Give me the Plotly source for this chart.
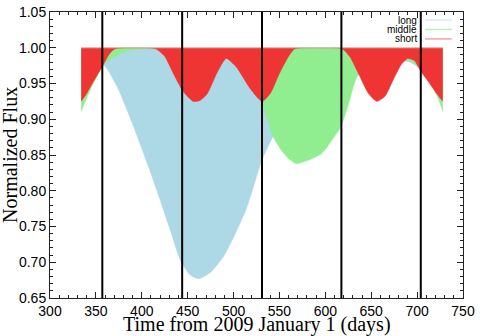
import plotly.graph_objects as go

long_time = [334, 346, 358, 373, 391, 398, 410, 420, 431, 442, 452, 462, 475, 489,
             500, 514, 531, 543, 552, 565, 580, 600, 620, 640, 660, 680, 692, 704, 716, 728]
long_flux = [0.930, 0.962, 0.976, 0.946, 0.890, 0.866, 0.824, 0.787, 0.745, 0.703, 0.683,
             0.677, 0.686, 0.708, 0.735, 0.775, 0.843, 0.876, 0.895, 0.920, 0.945, 0.965,
             0.975, 0.978, 0.980, 0.982, 0.980, 0.970, 0.955, 0.930]

middle_time = [334, 340, 346, 352, 358, 365, 373, 387, 400, 415, 495, 505, 515, 524, 531,
               537, 543, 552, 560, 568, 580, 596, 610, 617, 625, 634, 645, 660, 675, 690,
               697, 704, 712, 719, 724, 728]
middle_flux = [0.911, 0.930, 0.947, 0.962, 0.976, 0.983, 0.989, 0.996, 0.998, 0.999, 0.999,
               0.993, 0.975, 0.948, 0.925, 0.899, 0.876, 0.857, 0.845, 0.838, 0.842, 0.852,
               0.876, 0.890, 0.920, 0.958, 0.975, 0.984, 0.986, 0.983, 0.978, 0.970, 0.957,
               0.940, 0.926, 0.911]

short_time = [334, 340, 346, 352, 358, 364, 370, 378, 408, 416, 425, 434, 445, 456, 463,
              471, 482, 492, 503, 518, 531, 540, 550, 560, 566, 573, 612, 619, 627, 636,
              647, 656, 665, 675, 683, 690, 697, 704, 712, 719, 728]
short_flux = [0.925, 0.936, 0.950, 0.963, 0.976, 0.990, 0.998, 0.9995, 0.9995, 0.998, 0.988,
              0.965, 0.939, 0.925, 0.926, 0.935, 0.965, 0.985, 0.973, 0.943, 0.925, 0.936,
              0.964, 0.988, 0.998, 0.9995, 0.9995, 0.998, 0.987, 0.964, 0.936, 0.925, 0.932,
              0.958, 0.977, 0.985, 0.982, 0.967, 0.953, 0.940, 0.925]

event_times = [357, 444, 531, 617.5, 704]

series = [
    ("long", long_time, long_flux, "#add8e6", "#d6ecf3"),
    ("middle", middle_time, middle_flux, "#90ee90", "#b8efb8"),
    ("short", short_time, short_flux, "#ef3434", "#f4a3a3"),
]

fig = go.Figure()
for name, t, f, col, _ in series:
    # flat baseline at 1, the curve fills up to it
    fig.add_trace(go.Scatter(x=[t[0], t[-1]], y=[1.0, 1.0], mode="lines",
                             line=dict(width=0, color=col), showlegend=False,
                             hoverinfo="skip"))
    fig.add_trace(go.Scatter(x=t, y=f, mode="lines", name=name, fill="tonexty",
                             fillcolor=col,
                             line=dict(width=0.5, color=col, shape="spline", smoothing=0.6),
                             showlegend=False))

fig.add_trace(go.Scatter(x=[long_time[0], long_time[-1]], y=[1.0, 1.0], mode="lines",
                         line=dict(width=1, color="#dcbcae"), showlegend=False))

for t in event_times:
    fig.add_vline(x=t, line=dict(color="black", width=2))

# legend: text on the left, sample line on the right
for i, (name, _, _, _, lcol) in enumerate(series):
    ypos = 0.972 - i * 0.033
    fig.add_annotation(x=0.894, y=ypos, xref="paper", yref="paper", text=name,
                       showarrow=False, xanchor="right", yanchor="middle",
                       font=dict(family="Liberation Sans, Arial", size=10, color="black"))
    fig.add_shape(type="line", xref="paper", yref="paper", x0=0.908, x1=0.973,
                  y0=ypos, y1=ypos, line=dict(color=lcol, width=1.5))

fig.add_annotation(x=0.5, y=-0.047, xref="paper", yref="paper",
                   text="Time from 2009 January 1 (days)", showarrow=False,
                   xanchor="center", yanchor="top",
                   font=dict(family="Liberation Serif, Times New Roman", size=20, color="black"))
fig.add_annotation(x=-0.097, y=0.5, xref="paper", yref="paper", text="Normalized Flux",
                   showarrow=False, textangle=-90, xanchor="center", yanchor="middle",
                   font=dict(family="Liberation Serif, Times New Roman", size=20, color="black"))

axis_common = dict(showline=True, linecolor="#222", linewidth=1, mirror="ticks",
                   ticks="inside", ticklen=6, tickcolor="#222", showgrid=False,
                   zeroline=False, automargin=False, ticklabeloverflow="allow",
                   tickfont=dict(family="Liberation Sans, Arial", size=14, color="black"))

fig.update_xaxes(range=[300, 750], dtick=50, tick0=300,
                 minor=dict(ticks="inside", ticklen=3, dtick=10, tickcolor="#222"),
                 **axis_common)
fig.update_yaxes(range=[0.65, 1.05], dtick=0.05, tick0=0.65, tickformat=".2f",
                 minor=dict(ticks="inside", ticklen=3, dtick=0.01, tickcolor="#222"),
                 **axis_common)

fig.update_layout(width=480, height=336, margin=dict(l=50, r=17, t=12, b=38),
                  plot_bgcolor="white", paper_bgcolor="white", showlegend=False)

# drop the default 8px body margin so the figure sits at the page corner
fig.write_html("out.html", config={"displayModeBar": False},
               post_script="document.body.style.margin='0';")
